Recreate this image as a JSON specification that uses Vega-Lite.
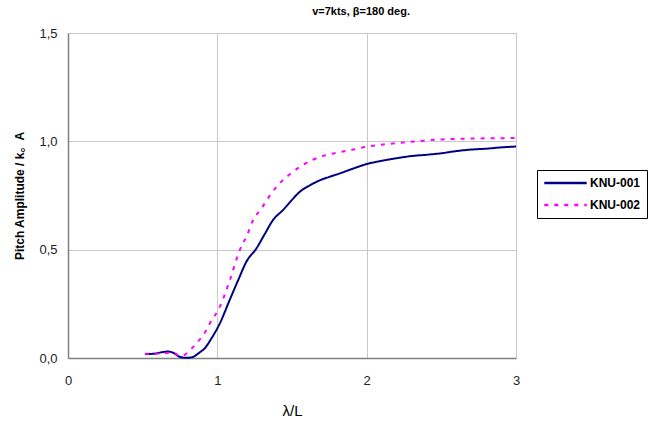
{
  "$schema": "https://vega.github.io/schema/vega-lite/v6.json",
  "autosize": "none",
  "width": 448,
  "height": 325,
  "padding": {"left": 68, "top": 33, "right": 137, "bottom": 63},
  "background": "white",
  "config": {
    "view": {"stroke": "#808080", "strokeWidth": 1},
    "font": "Liberation Sans"
  },
  "title": {
    "text": "v=7kts, β=180 deg.",
    "anchor": "end",
    "frame": "group",
    "dx": -106,
    "offset": 10,
    "fontSize": 11,
    "fontWeight": "bold",
    "font": "Liberation Sans",
    "color": "#000000"
  },
  "data": {
    "values": [
      {"s": "KNU-001", "x": 0.515, "y": 0.018},
      {"s": "KNU-001", "x": 0.58, "y": 0.02},
      {"s": "KNU-001", "x": 0.63, "y": 0.027},
      {"s": "KNU-001", "x": 0.67, "y": 0.03},
      {"s": "KNU-001", "x": 0.71, "y": 0.022},
      {"s": "KNU-001", "x": 0.74, "y": 0.008},
      {"s": "KNU-001", "x": 0.77, "y": 0.002},
      {"s": "KNU-001", "x": 0.8, "y": 0.001},
      {"s": "KNU-001", "x": 0.84, "y": 0.006},
      {"s": "KNU-001", "x": 0.88, "y": 0.025},
      {"s": "KNU-001", "x": 0.916, "y": 0.045},
      {"s": "KNU-001", "x": 0.96, "y": 0.09},
      {"s": "KNU-001", "x": 1.017, "y": 0.16},
      {"s": "KNU-001", "x": 1.084, "y": 0.27},
      {"s": "KNU-001", "x": 1.14, "y": 0.36},
      {"s": "KNU-001", "x": 1.195, "y": 0.445},
      {"s": "KNU-001", "x": 1.262, "y": 0.506},
      {"s": "KNU-001", "x": 1.32, "y": 0.575},
      {"s": "KNU-001", "x": 1.373, "y": 0.637},
      {"s": "KNU-001", "x": 1.44, "y": 0.683},
      {"s": "KNU-001", "x": 1.5, "y": 0.73},
      {"s": "KNU-001", "x": 1.552, "y": 0.767},
      {"s": "KNU-001", "x": 1.62, "y": 0.797},
      {"s": "KNU-001", "x": 1.686, "y": 0.82},
      {"s": "KNU-001", "x": 1.75, "y": 0.836},
      {"s": "KNU-001", "x": 1.82, "y": 0.852},
      {"s": "KNU-001", "x": 1.9, "y": 0.872},
      {"s": "KNU-001", "x": 2.0, "y": 0.895},
      {"s": "KNU-001", "x": 2.1, "y": 0.91},
      {"s": "KNU-001", "x": 2.2, "y": 0.922},
      {"s": "KNU-001", "x": 2.3, "y": 0.932},
      {"s": "KNU-001", "x": 2.4, "y": 0.938},
      {"s": "KNU-001", "x": 2.5, "y": 0.945},
      {"s": "KNU-001", "x": 2.6, "y": 0.955},
      {"s": "KNU-001", "x": 2.7, "y": 0.962},
      {"s": "KNU-001", "x": 2.8, "y": 0.966},
      {"s": "KNU-001", "x": 2.9, "y": 0.972},
      {"s": "KNU-001", "x": 3.0, "y": 0.976},
      {"s": "KNU-002", "x": 0.515, "y": 0.02},
      {"s": "KNU-002", "x": 0.58, "y": 0.02},
      {"s": "KNU-002", "x": 0.64, "y": 0.022},
      {"s": "KNU-002", "x": 0.69, "y": 0.024},
      {"s": "KNU-002", "x": 0.72, "y": 0.02},
      {"s": "KNU-002", "x": 0.75, "y": 0.008},
      {"s": "KNU-002", "x": 0.77, "y": 0.01},
      {"s": "KNU-002", "x": 0.8, "y": 0.025},
      {"s": "KNU-002", "x": 0.86, "y": 0.068},
      {"s": "KNU-002", "x": 0.91, "y": 0.11},
      {"s": "KNU-002", "x": 0.95, "y": 0.16},
      {"s": "KNU-002", "x": 1.017, "y": 0.237},
      {"s": "KNU-002", "x": 1.084, "y": 0.36},
      {"s": "KNU-002", "x": 1.15, "y": 0.498},
      {"s": "KNU-002", "x": 1.195, "y": 0.56},
      {"s": "KNU-002", "x": 1.24, "y": 0.637},
      {"s": "KNU-002", "x": 1.295, "y": 0.69},
      {"s": "KNU-002", "x": 1.35, "y": 0.748},
      {"s": "KNU-002", "x": 1.406, "y": 0.798},
      {"s": "KNU-002", "x": 1.48, "y": 0.845},
      {"s": "KNU-002", "x": 1.562, "y": 0.886},
      {"s": "KNU-002", "x": 1.64, "y": 0.915},
      {"s": "KNU-002", "x": 1.73, "y": 0.937},
      {"s": "KNU-002", "x": 1.82, "y": 0.95},
      {"s": "KNU-002", "x": 1.91, "y": 0.962},
      {"s": "KNU-002", "x": 2.0, "y": 0.975},
      {"s": "KNU-002", "x": 2.12, "y": 0.986},
      {"s": "KNU-002", "x": 2.25, "y": 0.995},
      {"s": "KNU-002", "x": 2.38, "y": 1.003},
      {"s": "KNU-002", "x": 2.5, "y": 1.009},
      {"s": "KNU-002", "x": 2.65, "y": 1.012},
      {"s": "KNU-002", "x": 2.8, "y": 1.014},
      {"s": "KNU-002", "x": 3.0, "y": 1.015}
    ]
  },
  "mark": {"type": "line", "strokeWidth": 2, "interpolate": "monotone"},
  "encoding": {
    "x": {
      "field": "x",
      "type": "quantitative",
      "scale": {"domain": [0, 3], "nice": false, "zero": false},
      "axis": {
        "values": [0, 1, 2, 3],
        "title": "λ/L",
        "titleFont": "Liberation Sans",
        "titleFontSize": 15,
        "titleFontWeight": "normal",
        "titleColor": "#000000",
        "titlePadding": 16,
        "labelFontSize": 13,
        "labelColor": "#222222",
        "labelPadding": 16,
        "labelFlush": false,
        "labelFont": "Liberation Sans",
        "grid": true,
        "gridColor": "#c8c8c8",
        "gridWidth": 1,
        "domainColor": "#808080",
        "domainWidth": 1.5,
        "ticks": false,
        "format": "d"
      }
    },
    "y": {
      "field": "y",
      "type": "quantitative",
      "scale": {"domain": [0, 1.5], "nice": false},
      "axis": {
        "values": [0, 0.5, 1.0, 1.5],
        "title": "Pitch Amplitude / k。A",
        "titleFont": "Liberation Sans, Noto Sans CJK KR",
        "titleFontSize": 12,
        "titleFontWeight": "bold",
        "titleColor": "#000000",
        "titlePadding": 12,
        "labelFontSize": 13,
        "labelColor": "#222222",
        "labelPadding": 11,
        "labelFlush": false,
        "labelFont": "Liberation Sans",
        "labelExpr": "replace(format(datum.value, '.1f'), '.', ',')",
        "grid": true,
        "gridColor": "#c8c8c8",
        "gridWidth": 1,
        "domainColor": "#808080",
        "domainWidth": 1.5,
        "ticks": false
      }
    },
    "color": {
      "field": "s",
      "type": "nominal",
      "scale": {"domain": ["KNU-001", "KNU-002"], "range": ["#000080", "#ff00ff"]},
      "legend": {
        "title": null,
        "orient": "none",
        "legendX": 469,
        "legendY": 137,
        "strokeColor": "#000000",
        "padding": 6,
        "symbolType": "stroke",
        "symbolSize": 1800,
        "symbolStrokeWidth": 2.5,
        "clipHeight": 14,
        "labelFontSize": 12,
        "labelFontWeight": "bold",
        "labelColor": "#000000",
        "labelFont": "Liberation Sans",
        "labelOffset": 2,
        "rowPadding": 8
      }
    },
    "strokeDash": {
      "field": "s",
      "type": "nominal",
      "scale": {"domain": ["KNU-001", "KNU-002"], "range": [[1, 0], [4, 6]]},
      "legend": null
    }
  }
}
